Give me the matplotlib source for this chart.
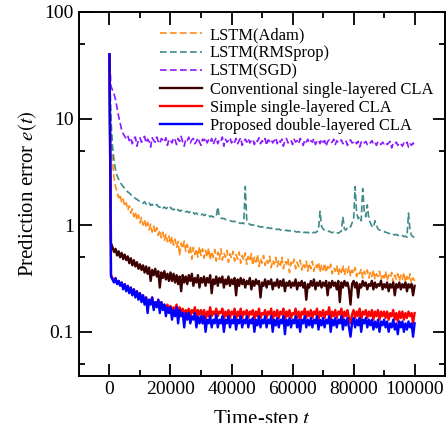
import matplotlib
matplotlib.use("Agg")
import matplotlib.pyplot as plt
from matplotlib.ticker import FixedLocator, NullFormatter

plt.rcParams['font.family'] = ['Liberation Serif', 'DejaVu Serif']
plt.rcParams['mathtext.fontset'] = 'stix'

# time steps: start, then every 500 steps
steps = [0] + list(range(500, 100001, 500))

err_adam = [40,
    6.0, 3.9, 2.8, 2.3, 2.05, 1.8, 1.95, 1.62, 1.75, 1.5,
    1.62, 1.38, 1.52, 1.3, 1.42, 1.2, 1.33, 1.12, 1.25, 1.05,
    1.18, 1.0, 1.12, 0.95, 1.06, 0.9, 1.02, 0.86, 0.98, 0.84,
    0.95, 0.8, 0.9, 0.76, 0.86, 0.72, 0.83, 0.7, 0.79, 0.66,
    0.78, 0.65, 0.74, 0.62, 0.7, 0.52, 0.68, 0.6, 0.71, 0.57,
    0.66, 0.55, 0.64, 0.48, 0.62, 0.53, 0.6, 0.5, 0.63, 0.52,
    0.6, 0.49, 0.58, 0.5, 0.61, 0.47, 0.57, 0.5, 0.59, 0.46,
    0.56, 0.48, 0.6, 0.47, 0.55, 0.5, 0.58, 0.45, 0.54, 0.49,
    0.57, 0.46, 0.53, 0.48, 0.56, 0.44, 0.52, 0.47, 0.55, 0.43,
    0.51, 0.46, 0.54, 0.42, 0.5, 0.45, 0.53, 0.41, 0.49, 0.44,
    0.52, 0.42, 0.48, 0.44, 0.51, 0.4, 0.47, 0.43, 0.5, 0.41,
    0.47, 0.42, 0.5, 0.39, 0.46, 0.43, 0.49, 0.36, 0.45, 0.42,
    0.48, 0.39, 0.45, 0.41, 0.47, 0.38, 0.44, 0.4, 0.46, 0.37,
    0.44, 0.39, 0.46, 0.37, 0.43, 0.4, 0.45, 0.36, 0.42, 0.38,
    0.44, 0.36, 0.41, 0.38, 0.43, 0.35, 0.4, 0.37, 0.42, 0.34,
    0.4, 0.36, 0.42, 0.34, 0.39, 0.36, 0.41, 0.33, 0.38, 0.35,
    0.4, 0.33, 0.37, 0.35, 0.39, 0.32, 0.37, 0.34, 0.38, 0.32,
    0.36, 0.33, 0.38, 0.31, 0.35, 0.33, 0.37, 0.3, 0.35, 0.32,
    0.37, 0.3, 0.34, 0.32, 0.36, 0.29, 0.34, 0.31, 0.35, 0.3,
    0.34, 0.31, 0.36, 0.29, 0.33, 0.3, 0.35, 0.28, 0.32, 0.3,
]

err_rmsprop = [40,
    9.8, 5.5, 4.0, 3.3, 2.9, 2.7, 2.55, 2.4, 2.3, 2.2,
    2.12, 2.05, 2.0, 1.93, 1.9, 1.84, 1.78, 1.75, 1.7, 1.68,
    1.64, 1.6, 1.66, 1.58, 1.55, 1.62, 1.53, 1.57, 1.5, 1.52,
    1.56, 1.49, 1.47, 1.52, 1.45, 1.48, 1.43, 1.46, 1.41, 1.47,
    1.42, 1.39, 1.43, 1.37, 1.4, 1.35, 1.38, 1.34, 1.36, 1.33,
    1.35, 1.31, 1.34, 1.29, 1.31, 1.27, 1.3, 1.26, 1.28, 1.25,
    1.27, 1.23, 1.26, 1.22, 1.24, 1.2, 1.22, 1.19, 1.21, 1.2,
    1.48, 1.2, 1.17, 1.15, 1.16, 1.13, 1.12, 1.11, 1.1, 1.09,
    1.08, 1.09, 1.06, 1.07, 1.05, 1.04, 1.05, 1.03, 2.3, 1.1,
    1.04, 1.02, 1.0, 1.01, 0.99, 0.98, 0.99, 0.97, 0.96, 0.97,
    0.95, 0.96, 0.94, 0.95, 0.93, 0.94, 0.92, 0.93, 0.92, 0.91,
    0.92, 0.9, 0.91, 0.9, 0.89, 0.9, 0.88, 0.89, 0.88, 0.87,
    0.88, 0.87, 0.86, 0.87, 0.86, 0.87, 0.85, 0.86, 0.85, 0.86,
    0.84, 0.85, 0.84, 0.86, 0.85, 0.87, 0.9, 1.35, 0.98, 0.92,
    0.9, 0.88, 0.87, 0.88, 0.86, 0.85, 0.86, 0.84, 0.85, 0.84,
    0.86, 0.88, 1.2, 0.92, 0.9, 0.95, 0.98, 0.96, 1.05, 1.1,
    2.3, 1.3, 1.15, 1.2, 1.1, 2.2, 1.35, 1.2, 1.55, 1.15,
    1.05, 0.98, 0.95, 1.1, 1.0, 0.92, 0.9, 0.89, 0.88, 0.87,
    0.86, 0.85, 0.84, 0.83, 0.84, 0.82, 0.81, 0.82, 0.8, 0.81,
    0.79, 0.8, 0.78, 0.79, 0.77, 1.3, 0.9, 0.8, 0.78, 0.76,
]

err_sgd = [40,
    20, 18.5, 17, 15, 12.5, 10.5, 9, 7.8, 7.2, 6.8,
    6.5, 6.9, 6.2, 6.6, 5.8, 6.4, 6.7, 5.5, 6.3, 6.6,
    6.0, 6.5, 6.8, 5.9, 6.4, 6.1, 5.4, 6.6, 6.2, 6.0,
    6.7, 6.1, 5.8, 6.5, 6.3, 6.0, 6.6, 5.6, 6.4, 6.2,
    5.9, 6.6, 6.3, 5.7, 6.5, 6.1, 6.8, 6.0, 5.5, 6.4,
    6.2, 6.7, 5.9, 6.3, 6.5, 5.8, 6.1, 6.6, 6.0, 5.6,
    6.4, 6.2, 6.6, 5.9, 6.3, 6.0, 6.5, 5.7, 6.2, 6.6,
    5.8, 6.3, 6.1, 6.7, 5.5, 6.4, 6.0, 6.2, 6.6, 5.9,
    6.3, 6.0, 6.5, 5.8, 6.2, 6.6, 5.6, 6.1, 6.4, 6.0,
    6.5, 5.9, 6.2, 6.4, 5.7, 6.3, 6.1, 6.6, 5.8, 6.2,
    6.0, 6.5, 5.6, 6.3, 6.1, 6.4, 5.9, 6.2, 6.6, 5.8,
    6.3, 6.0, 6.4, 5.5, 6.2, 6.5, 5.9, 6.1, 6.3, 5.7,
    6.4, 6.0, 6.2, 5.8, 6.5, 6.1, 5.6, 6.3, 6.0, 6.4,
    5.9, 6.2, 6.0, 6.5, 5.7, 6.1, 6.3, 5.8, 6.4, 6.0,
    6.2, 5.5, 6.1, 6.3, 5.9, 6.0, 6.4, 5.7, 6.2, 5.9,
    6.1, 6.3, 5.8, 6.0, 6.2, 5.6, 6.1, 6.3, 5.9, 6.0,
    6.2, 5.8, 6.1, 5.4, 6.0, 6.2, 5.9, 6.1, 5.7, 6.0,
    5.9, 6.2, 5.8, 6.0, 5.6, 6.1, 5.9, 5.7, 6.0, 5.8,
    6.0, 5.7, 5.9, 6.1, 5.3, 5.9, 5.8, 6.0, 5.6, 5.9,
    5.8, 5.5, 5.9, 5.7, 6.0, 5.4, 5.8, 5.6, 5.9, 5.6,
]

err_conv = [40,
    0.68, 0.62, 0.56, 0.6, 0.52, 0.57, 0.5, 0.55, 0.48, 0.53,
    0.47, 0.51, 0.44, 0.49, 0.42, 0.47, 0.41, 0.45, 0.39, 0.43,
    0.38, 0.42, 0.36, 0.41, 0.35, 0.4, 0.3, 0.38, 0.34, 0.39,
    0.33, 0.37, 0.26, 0.36, 0.32, 0.37, 0.31, 0.35, 0.3, 0.36,
    0.3, 0.35, 0.29, 0.34, 0.28, 0.33, 0.24, 0.34, 0.29, 0.33,
    0.28, 0.34, 0.3, 0.35, 0.27, 0.32, 0.29, 0.34, 0.26, 0.32,
    0.29, 0.33, 0.27, 0.32, 0.29, 0.34, 0.23, 0.31, 0.28, 0.33,
    0.27, 0.32, 0.29, 0.33, 0.26, 0.31, 0.28, 0.33, 0.27, 0.31,
    0.28, 0.32, 0.22, 0.31, 0.27, 0.32, 0.28, 0.31, 0.26, 0.3,
    0.28, 0.32, 0.25, 0.3, 0.27, 0.31, 0.28, 0.3, 0.21, 0.29,
    0.27, 0.31, 0.26, 0.3, 0.28, 0.31, 0.25, 0.29, 0.27, 0.31,
    0.26, 0.3, 0.27, 0.31, 0.24, 0.29, 0.27, 0.3, 0.26, 0.29,
    0.27, 0.31, 0.25, 0.29, 0.27, 0.3, 0.26, 0.29, 0.2, 0.28,
    0.26, 0.3, 0.27, 0.31, 0.25, 0.29, 0.27, 0.3, 0.26, 0.29,
    0.27, 0.3, 0.22, 0.29, 0.26, 0.3, 0.27, 0.29, 0.25, 0.3,
    0.19, 0.29, 0.26, 0.3, 0.27, 0.29, 0.25, 0.18, 0.28, 0.3,
    0.26, 0.29, 0.21, 0.28, 0.26, 0.3, 0.27, 0.29, 0.25, 0.28,
    0.27, 0.3, 0.25, 0.29, 0.26, 0.28, 0.27, 0.3, 0.25, 0.28,
    0.26, 0.29, 0.24, 0.28, 0.26, 0.29, 0.22, 0.28, 0.26, 0.29,
    0.25, 0.28, 0.26, 0.29, 0.24, 0.28, 0.26, 0.28, 0.22, 0.27,
]

err_simple = [40,
    0.34, 0.32, 0.3, 0.31, 0.29, 0.3, 0.28, 0.29, 0.26, 0.28,
    0.25, 0.27, 0.24, 0.26, 0.23, 0.25, 0.22, 0.24, 0.21, 0.23,
    0.2, 0.22, 0.19, 0.21, 0.18, 0.2, 0.19, 0.21, 0.17, 0.19,
    0.18, 0.2, 0.17, 0.19, 0.17, 0.18, 0.16, 0.18, 0.16, 0.175,
    0.15, 0.17, 0.16, 0.18, 0.15, 0.17, 0.15, 0.165, 0.14, 0.16,
    0.15, 0.165, 0.14, 0.16, 0.15, 0.17, 0.14, 0.16, 0.145, 0.16,
    0.14, 0.16, 0.13, 0.155, 0.14, 0.17, 0.14, 0.155, 0.145, 0.165,
    0.14, 0.155, 0.15, 0.165, 0.13, 0.155, 0.14, 0.16, 0.135, 0.155,
    0.145, 0.165, 0.13, 0.155, 0.14, 0.165, 0.135, 0.155, 0.145, 0.16,
    0.135, 0.155, 0.145, 0.16, 0.13, 0.155, 0.14, 0.165, 0.135, 0.15,
    0.145, 0.16, 0.135, 0.155, 0.145, 0.165, 0.13, 0.155, 0.14, 0.16,
    0.135, 0.155, 0.145, 0.165, 0.125, 0.155, 0.14, 0.16, 0.135, 0.15,
    0.145, 0.165, 0.135, 0.155, 0.13, 0.155, 0.145, 0.165, 0.135, 0.155,
    0.14, 0.16, 0.135, 0.155, 0.145, 0.165, 0.13, 0.155, 0.14, 0.16,
    0.135, 0.155, 0.145, 0.17, 0.13, 0.155, 0.14, 0.16, 0.135, 0.155,
    0.145, 0.165, 0.13, 0.155, 0.14, 0.16, 0.135, 0.12, 0.145, 0.16,
    0.135, 0.155, 0.14, 0.165, 0.13, 0.155, 0.145, 0.16, 0.135, 0.155,
    0.14, 0.16, 0.13, 0.155, 0.14, 0.16, 0.13, 0.155, 0.14, 0.155,
    0.135, 0.155, 0.13, 0.15, 0.14, 0.16, 0.13, 0.15, 0.125, 0.155,
    0.135, 0.155, 0.13, 0.15, 0.135, 0.155, 0.14, 0.15, 0.12, 0.15,
]

err_proposed = [40,
    0.33, 0.31, 0.29, 0.32, 0.28, 0.3, 0.27, 0.29, 0.25, 0.28,
    0.24, 0.27, 0.23, 0.26, 0.22, 0.25, 0.21, 0.24, 0.2, 0.23,
    0.19, 0.22, 0.18, 0.21, 0.15, 0.2, 0.18, 0.21, 0.16, 0.19,
    0.17, 0.2, 0.15, 0.19, 0.16, 0.18, 0.14, 0.17, 0.15, 0.17,
    0.13, 0.16, 0.14, 0.17, 0.12, 0.16, 0.14, 0.15, 0.11, 0.15,
    0.13, 0.15, 0.12, 0.14, 0.13, 0.15, 0.11, 0.14, 0.12, 0.14,
    0.12, 0.14, 0.1, 0.13, 0.12, 0.14, 0.11, 0.13, 0.12, 0.145,
    0.11, 0.13, 0.12, 0.14, 0.1, 0.13, 0.12, 0.14, 0.11, 0.13,
    0.12, 0.14, 0.105, 0.13, 0.12, 0.14, 0.11, 0.13, 0.12, 0.14,
    0.11, 0.13, 0.12, 0.135, 0.1, 0.13, 0.115, 0.14, 0.11, 0.13,
    0.12, 0.14, 0.11, 0.13, 0.12, 0.14, 0.1, 0.13, 0.115, 0.135,
    0.11, 0.13, 0.12, 0.14, 0.095, 0.13, 0.115, 0.135, 0.11, 0.13,
    0.12, 0.14, 0.11, 0.13, 0.1, 0.13, 0.12, 0.14, 0.11, 0.13,
    0.115, 0.135, 0.11, 0.13, 0.12, 0.14, 0.105, 0.13, 0.115, 0.135,
    0.11, 0.13, 0.12, 0.14, 0.1, 0.13, 0.115, 0.135, 0.11, 0.13,
    0.12, 0.14, 0.105, 0.13, 0.115, 0.135, 0.11, 0.09, 0.12, 0.135,
    0.11, 0.13, 0.115, 0.135, 0.1, 0.13, 0.12, 0.135, 0.11, 0.13,
    0.115, 0.13, 0.105, 0.125, 0.11, 0.13, 0.1, 0.125, 0.115, 0.13,
    0.11, 0.125, 0.1, 0.12, 0.11, 0.13, 0.105, 0.12, 0.095, 0.125,
    0.11, 0.125, 0.1, 0.12, 0.105, 0.125, 0.11, 0.12, 0.09, 0.12,
]

labels = ['LSTM(Adam)', 'LSTM(RMSprop)', 'LSTM(SGD)',
          'Conventional single-layered CLA', 'Simple single-layered CLA',
          'Proposed double-layered CLA']

fig = plt.figure(figsize=(4.46, 4.23), dpi=100)
ax = fig.add_axes([0.177, 0.111, 0.821, 0.861])

dash = (0, (4, 2))
ax.plot(steps, err_adam, color='#ff8c1a', lw=1.2, ls=dash, label=labels[0])
ax.plot(steps, err_rmsprop, color='#3f8a8a', lw=1.2, ls=dash, label=labels[1])
ax.plot(steps, err_sgd, color='#8a1aff', lw=1.2, ls=dash, label=labels[2])
ax.plot(steps, err_conv, color='#3d0000', lw=1.7, label=labels[3])
ax.plot(steps, err_simple, color='#ff0000', lw=1.7, label=labels[4])
ax.plot(steps, err_proposed, color='#0000ff', lw=1.7, label=labels[5])

ax.set_yscale('log')
ax.set_xlim(-10000, 110000)
ax.set_ylim(0.0385, 100)

ax.set_xticks([0, 20000, 40000, 60000, 80000, 100000])
ax.xaxis.set_minor_locator(FixedLocator(range(10000, 100000, 20000)))
ax.set_yticks([0.1, 1, 10, 100])
ax.set_yticklabels(['0.1', '1', '10', '100'])
ax.yaxis.set_minor_locator(FixedLocator([0.05, 0.5, 5, 50]))
ax.yaxis.set_minor_formatter(NullFormatter())

ax.tick_params(which='both', direction='in', top=True, right=True, width=1.3,
               labelsize=14)
ax.tick_params(which='major', length=9)
ax.tick_params(which='minor', length=4.5)
for s in ax.spines.values():
    s.set_linewidth(1.4)

ax.set_xlabel(r'Time-step $t$', fontsize=15, labelpad=7.5)
ax.set_ylabel(r'Prediction error $e(t)$', fontsize=15, labelpad=4)

ax.legend(loc='upper right', bbox_to_anchor=(0.995, 0.985), frameon=False,
          fontsize=11.9, handlelength=2.55, handletextpad=0.5,
          labelspacing=0.13, borderaxespad=0.2)

fig.savefig('out.png', dpi=100)
